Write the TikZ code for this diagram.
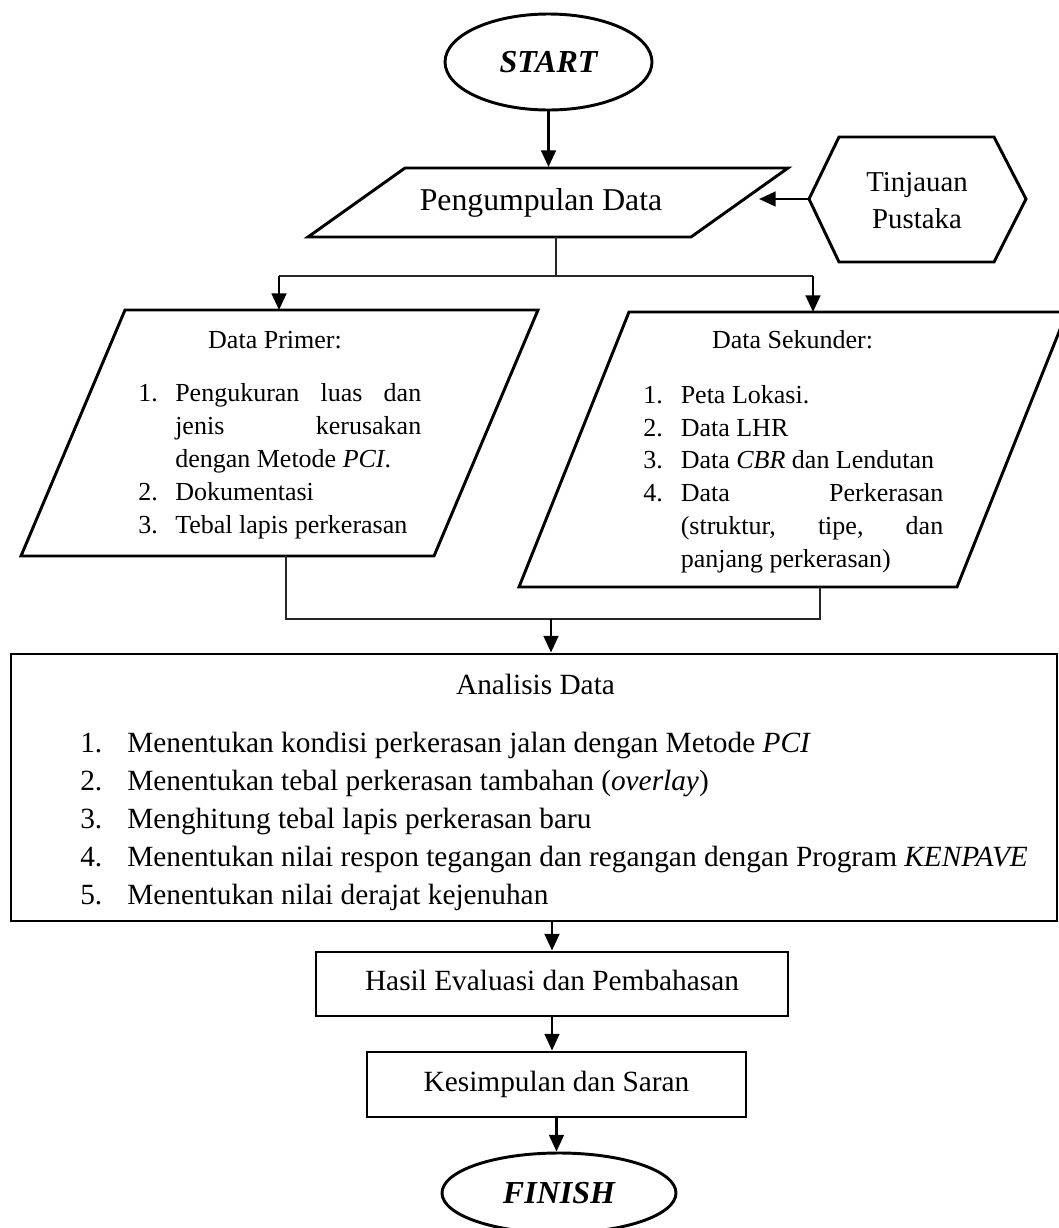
\documentclass[tikz,border=0pt]{standalone}
\usepackage{fontspec}
\setmainfont{Liberation Serif}
\usetikzlibrary{shapes.geometric,arrows.meta}

% one drawing unit = 0.75pt
\newdimen\pxu \pxu=0.75pt
\newcommand{\fsz}[2]{\fontsize{#1}{#2}\selectfont}
\newcommand{\numbox}[2]{\makebox[#1\pxu][l]{#2}}
\newcommand{\fillto}[2]{\makebox[#1\pxu][s]{#2}}

\begin{document}
\begin{tikzpicture}[x=0.75pt,y=-0.75pt,
  outline/.style={line width=2.2pt, line join=miter},
  joinline/.style={line width=1.1pt, draw=black!85},
  flow/.style={line width=2pt, -{Triangle[width=11pt,length=12.5pt]}},
  terminal/.style={ellipse, draw, line width=2.2pt, inner sep=0pt,
                   font=\fsz{24}{28}\bfseries\itshape},
  procbox/.style={rectangle, draw, line width=2.2pt, inner sep=0pt},
  txt/.style={inner sep=0pt, anchor=base},
  listtext/.style={inner sep=0pt, anchor=north west, align=left}
]
\useasboundingbox (0,0) rectangle (1059,1228);
\clip (0,0) rectangle (1059,1228);

% ---- START ----
\node[terminal, minimum width=155.25pt, minimum height=72pt] (start) at (548.5,62) {START};

% ---- Pengumpulan Data (input parallelogram) ----
\coordinate (pdA) at (405,168);
\coordinate (pdB) at (788,168);
\coordinate (pdC) at (691,237);
\coordinate (pdD) at (308,237);
\draw[outline] (pdA) -- (pdB) -- (pdC) -- (pdD) -- cycle;
\node[txt, font=\fsz{23.8}{28}] (pd) at (541,210) {Pengumpulan Data};
\coordinate (pdTop) at (548.5,167);
\coordinate (pdIn) at (759,199);
\coordinate (pdBot) at (556,237);

% ---- Tinjauan Pustaka (hexagon) ----
\coordinate (hxW) at (809,199);
\coordinate (hxNW) at (839,137);
\coordinate (hxNE) at (994,137);
\coordinate (hxE) at (1026,199);
\coordinate (hxSE) at (994,262);
\coordinate (hxSW) at (839,262);
\draw[outline] (hxW) -- (hxNW) -- (hxNE) -- (hxE) -- (hxSE) -- (hxSW) -- cycle;
\node[listtext, anchor=north, align=center, font=\fsz{21.6}{27.75}] (tp) at (917,165.1)
  {\strut Tinjauan\\\strut Pustaka};

% ---- Data Primer ----
\coordinate (prA) at (125,310);
\coordinate (prB) at (538,310);
\coordinate (prC) at (434,556);
\coordinate (prD) at (21,556);
\draw[outline] (prA) -- (prB) -- (prC) -- (prD) -- cycle;
\node[txt, font=\fsz{19.5}{24.75}] (prTitle) at (275,348) {Data Primer:};
\node[listtext, font=\fsz{19.5}{24.75}] (prList) at (138,377.9)
  {\strut\numbox{37}{1.}\fillto{246}{Pengukuran luas dan}\\
   \strut\numbox{37}{}\fillto{246}{jenis kerusakan}\\
   \strut\numbox{37}{}dengan Metode \textit{PCI}.\\
   \strut\numbox{37}{2.}Dokumentasi\\
   \strut\numbox{37}{3.}Tebal lapis perkerasan};
\coordinate (prTop) at (279,310);
\coordinate (prBot) at (286,556);

% ---- Data Sekunder ----
\coordinate (seA) at (629,312);
\coordinate (seB) at (1067,312);
\coordinate (seC) at (957,587);
\coordinate (seD) at (519,587);
\draw[outline] (seA) -- (seB) -- (seC) -- (seD) -- cycle;
\node[txt, font=\fsz{19.5}{24.75}] (seTitle) at (792.5,348) {Data Sekunder:};
\node[listtext, font=\fsz{19.5}{24.6}] (seList) at (643,380)
  {\strut\numbox{37.5}{1.}Peta Lokasi.\\
   \strut\numbox{37.5}{2.}Data LHR\\
   \strut\numbox{37.5}{3.}Data \textit{CBR} dan Lendutan\\
   \strut\numbox{37.5}{4.}\fillto{262.5}{Data Perkerasan}\\
   \strut\numbox{37.5}{}\fillto{262.5}{(struktur, tipe, dan}\\
   \strut\numbox{37.5}{}panjang perkerasan)};
\coordinate (seTop) at (813,312);
\coordinate (seBot) at (820,587);

% ---- split and merge connectors ----
\coordinate (splitL) at (279,276);
\coordinate (splitR) at (813,276);
\coordinate (mergeL) at (286,619);
\coordinate (mergeR) at (820,619);
\coordinate (mergeOut) at (551,619);
\draw[joinline] (pdBot) -- (pdBot |- splitL);
\draw[joinline] (splitL) -- (splitR);
\draw[joinline] (prBot) -- (mergeL) -- (mergeR) -- (seBot);

% ---- Analisis Data ----
\node[procbox, minimum width=784.5pt, minimum height=200.25pt] (ana) at (534,787.5) {};
\node[txt, font=\fsz{22}{28.5}] (anaTitle) at (535.5,694) {Analisis Data};
\node[listtext, font=\fsz{22}{28.5}] (anaList) at (80,725.4)
  {\strut\numbox{47}{1.}Menentukan kondisi perkerasan jalan dengan Metode \textit{PCI}\\
   \strut\numbox{47}{2.}Menentukan tebal perkerasan tambahan (\textit{overlay})\\
   \strut\numbox{47}{3.}Menghitung tebal lapis perkerasan baru\\
   \strut\numbox{47}{4.}Menentukan nilai respon tegangan dan regangan dengan Program \textit{KENPAVE}\\
   \strut\numbox{47}{5.}Menentukan nilai derajat kejenuhan};

% ---- Hasil, Kesimpulan, FINISH ----
\node[procbox, minimum width=354pt, minimum height=48pt, text height=15pt, text depth=4.8pt,
      font=\fsz{22}{28.5}] (hasil) at (552,984) {Hasil Evaluasi dan Pembahasan};
\node[procbox, minimum width=284.25pt, minimum height=48.75pt, text height=15pt, text depth=4.8pt,
      font=\fsz{22}{28.5}] (kes) at (556.5,1084.5) {Kesimpulan dan Saran};
\node[terminal, minimum width=175.5pt, minimum height=60pt] (finish) at (559,1193) {FINISH};

% ---- flow arrows ----
\draw[flow] (start.south) -- (pdTop);
\draw[flow] (hxW) -- (pdIn);
\draw[flow] (splitL) -- (prTop);
\draw[flow] (splitR) -- (seTop);
\draw[flow] (mergeOut) -- (mergeOut |- ana.north);
\draw[flow] (ana.south -| hasil.north) -- (hasil.north);
\draw[flow] (hasil.south) -- (hasil.south |- kes.north);
\draw[flow] (kes.south) -- (kes.south |- finish.north);
\end{tikzpicture}
\end{document}
